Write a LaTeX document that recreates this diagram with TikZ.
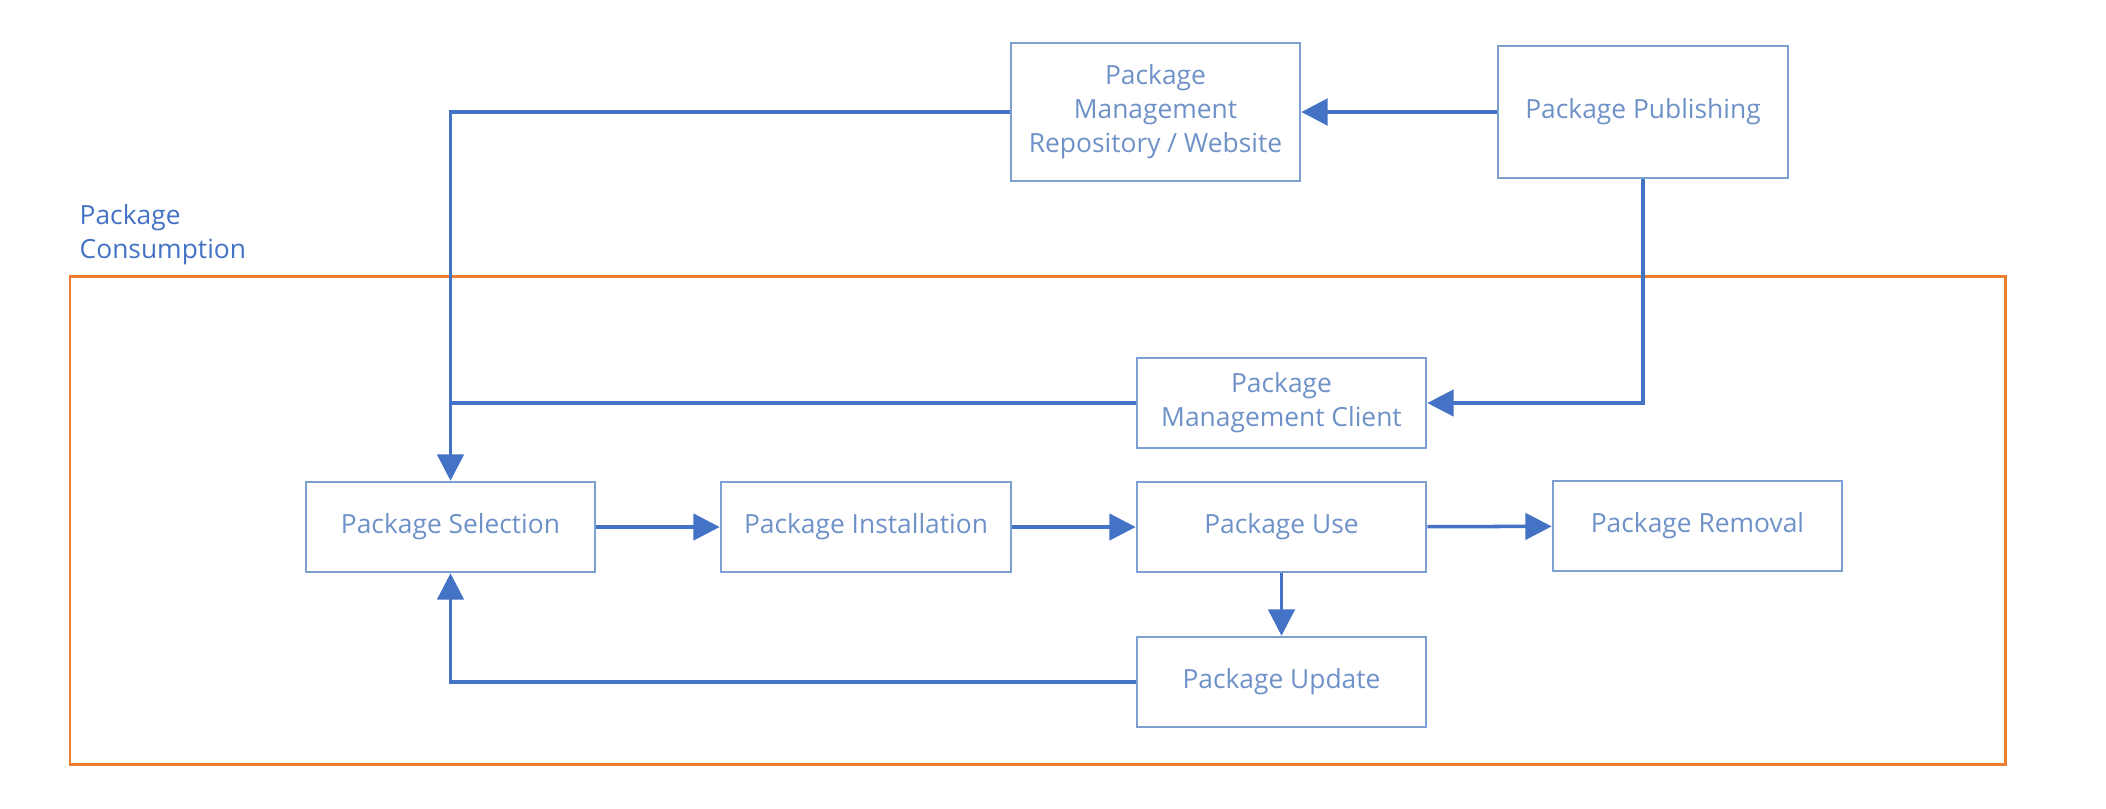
\documentclass[tikz,border=0pt]{standalone}
\usepackage{fontspec}
\setmainfont{Open Sans}
\usetikzlibrary{arrows.meta}

\definecolor{boxline}{RGB}{124,160,210}
\definecolor{boxtext}{RGB}{110,145,200}
\definecolor{flow}{RGB}{68,114,196}
\definecolor{frameorange}{RGB}{237,125,49}

\tikzset{
  stage/.style={draw=boxline, line width=0.7pt, text=boxtext, align=center,
    minimum width=2.89cm, minimum height=0.9cm, inner sep=0pt,
    font=\fontsize{7.5}{9.7}\selectfont},
  flowline/.style={draw=flow, line width=1pt},
  flowarrow/.style={flowline, -{Triangle[length=7.5pt,width=7.5pt]}}
}

\begin{document}
\begin{tikzpicture}[x=0.01cm, y=-0.01cm]
\useasboundingbox (0,0) rectangle (2106,808);

% consumption frame
\draw[frameorange, line width=0.85pt] (70,276) rectangle (2005,764);
\node[anchor=south west, align=left, text=flow, inner sep=0pt,
  font=\fontsize{7.5}{9.7}\selectfont] (consumption) at (79,266) {Package\\Consumption};

\node[stage, minimum height=1.38cm] (repo) at (1155.5,112) {Package\\Management\\Repository / Website};
\node[stage, minimum width=2.9cm, minimum height=1.32cm] (publish) at (1643,112) {Package Publishing};
\node[stage] (client) at (1281.5,403) {Package\\Management Client};
\node[stage] (select) at (450.5,527) {Package Selection};
\node[stage, minimum width=2.9cm] (install) at (866,527) {Package Installation};
\node[stage] (use) at (1281.5,527) {Package Use};
\node[stage] (remove) at (1697.5,526) {Package Removal};
\node[stage] (update) at (1281.5,682) {Package Update};

\draw[flowarrow, line width=1.2pt] (publish) -- (repo);
\draw[flowarrow] (repo.west) -| (select.north);
\draw[flowarrow] (publish.south) |- (client.east);
\draw[flowline] (client.west) -- (client.west -| select.north);
\draw[flowarrow] (select) -- (install);
\draw[flowarrow] (install) -- (use);
\draw[flowarrow] (use) -- (remove);
\draw[flowarrow] (use) -- (update);
\draw[flowarrow] (update.west) -| (select.south);
\end{tikzpicture}
\end{document}
